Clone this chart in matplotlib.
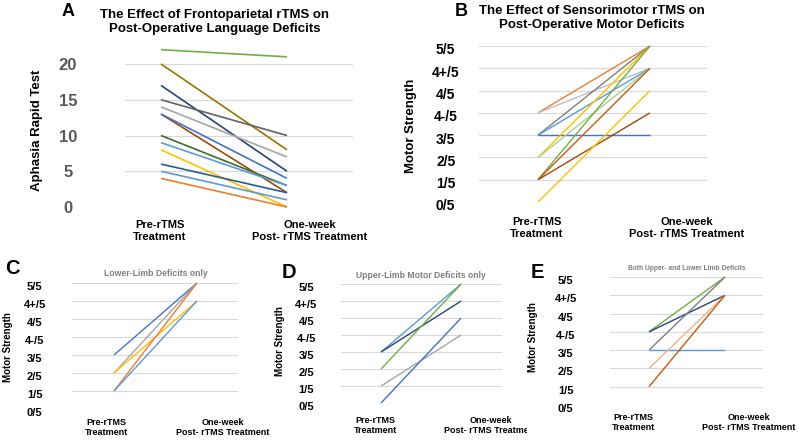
import matplotlib.pyplot as plt
import matplotlib.transforms as mtransforms
from matplotlib.transforms import Bbox, TransformedBbox

plt.rcParams['font.family'] = ['Liberation Sans', 'DejaVu Sans']

# ---- data ----
stages = ["Pre-rTMS\nTreatment", "One-week\nPost- rTMS Treatment"]
motor_ticks = ["0/5", "1/5", "2/5", "3/5", "4-/5", "4/5", "4+/5", "5/5"]

# A: aphasia rapid test scores
a_pre = [22, 20, 17, 15, 14, 13, 13, 10, 9, 8, 6, 5, 4]
a_post = [21, 8, 5, 10, 7, 2, 4, 3, 3, 0, 2, 1, 0]
a_colors = ["#70AD47", "#997300", "#264478", "#636363", "#A5A5A5", "#9E480E",
            "#4472C4", "#43682B", "#5B9BD5", "#FFC000", "#255E91", "#5B9BD5", "#ED7D31"]

# B-E: motor strength as index into motor_ticks
b_pre = [4, 4, 3, 3, 3, 2, 2, 1, 1, 1, 0]
b_post = [7, 6, 7, 6, 3, 7, 6, 7, 6, 4, 5]
b_colors = ["#ED7D31", "#BFBFBF", "#7F7F7F", "#5B9BD5", "#4472C4", "#FFC000",
            "#A9D18E", "#70AD47", "#C55A11", "#9E480E", "#FFC000"]

c_pre = [3, 2, 2, 1, 1]
c_post = [7, 7, 6, 7, 6]
c_colors = ["#4472C4", "#A5A5A5", "#FFC000", "#ED7D31", "#5B9BD5"]

d_pre = [3, 3, 2, 1, 0]
d_post = [7, 6, 7, 4, 5]
d_colors = ["#5B9BD5", "#264478", "#70AD47", "#A5A5A5", "#4472C4"]

e_pre = [4, 4, 3, 3, 2, 1]
e_post = [7, 6, 7, 3, 6, 6]
e_colors = ["#70AD47", "#264478", "#7F7F7F", "#5B9BD5", "#F4B183", "#C55A11"]

W, H = 799, 442
fig = plt.figure(figsize=(W / 100, H / 100), dpi=100)


def px(x, y):
    return x / W, 1 - y / H


def panel(x0, x1, ytop, ybot, xlim, ylim):
    ax = fig.add_axes([x0 / W, 1 - ybot / H, (x1 - x0) / W, (ybot - ytop) / H])
    ax.set_xlim(*xlim)
    ax.set_ylim(*ylim)
    for s in ax.spines.values():
        s.set_visible(False)
    ax.set_xticks([])
    ax.yaxis.grid(True, color="#D9D9D9", lw=0.8)
    ax.set_axisbelow(True)
    ax.tick_params(axis="y", length=0)
    return ax


def draw_lines(ax, pre, post, colors, lw=1.0):
    for p, q, c in zip(pre, post, colors):
        ax.plot([0, 1], [p, q], color=c, lw=lw, clip_on=False, solid_capstyle="butt")


def ticklabels(ax, ticks, labels, size, pad, color="black", drop=0):
    ax.set_yticks(ticks)
    ax.set_yticklabels(labels, fontsize=size, fontweight="bold", color=color)
    ax.tick_params(axis="y", pad=pad)
    shift = mtransforms.ScaledTranslation(0, -drop / 100, fig.dpi_scale_trans)
    for t in ax.get_yticklabels():
        t.set_ha("center")
        t.set_transform(t.get_transform() + shift)


def stage_labels(xpre, xpost, y, size, clip=None):
    t1 = fig.text(*px(xpre, y), stages[0], ha="center", va="top", fontsize=size,
                  fontweight="bold", linespacing=1.2)
    t2 = fig.text(*px(xpost, y), stages[1], ha="center", va="top", fontsize=size,
                  fontweight="bold", linespacing=1.2)
    if clip is not None:
        t2.set_clip_box(TransformedBbox(Bbox.from_extents(0, 0, clip / W, 1), fig.transFigure))
        t2.set_clip_on(True)


# ---- A ----
axA = panel(125, 353, 49.7, 207, (-0.286, 1.524), (0, 22))
draw_lines(axA, a_pre, a_post, a_colors, lw=1.2)
ticklabels(axA, [0, 5, 10, 15, 20], ["0", "5", "10", "15", "20"], 12, 41, "#595959")
fig.text(*px(37, 130), "Aphasia Rapid Test", rotation=90, ha="center", va="center",
         fontsize=9.5, fontweight="bold")
fig.text(*px(68, 12), "A", ha="center", va="center", fontsize=13, fontweight="bold")
fig.text(*px(215, 22), "The Effect of Frontoparietal rTMS on\nPost-Operative Language Deficits",
         ha="center", va="center", fontsize=9.5, fontweight="bold", linespacing=1.2)
stage_labels(160, 310, 220, 8)

# ---- B ----
axB = panel(479, 707, 46, 202, (-0.527, 1.509), (0, 7))
draw_lines(axB, b_pre, b_post, b_colors)
ticklabels(axB, range(8), motor_ticks, 10, 24, drop=3)
fig.text(*px(411, 126), "Motor Strength", rotation=90, ha="center", va="center",
         fontsize=9.5, fontweight="bold")
fig.text(*px(461, 12), "B", ha="center", va="center", fontsize=13, fontweight="bold")
fig.text(*px(592, 18), "The Effect of Sensorimotor rTMS on\nPost-Operative Motor Deficits",
         ha="center", va="center", fontsize=9.5, fontweight="bold", linespacing=1.2)
stage_labels(537, 687, 217, 8)

# ---- C ----
axC = panel(72, 238, 283, 409, (-0.506, 1.494), (0, 7))
draw_lines(axC, c_pre, c_post, c_colors)
ticklabels(axC, range(8), motor_ticks, 8, 27, drop=3)
fig.text(*px(8, 347), "Motor Strength", rotation=90, ha="center", va="center",
         fontsize=7, fontweight="bold")
fig.text(*px(12, 269), "C", ha="center", va="center", fontsize=14.5, fontweight="bold")
fig.text(*px(156, 274), "Lower-Limb Deficits only", ha="center", va="center",
         fontsize=6.2, fontweight="bold", color="#7F7F7F")
stage_labels(106, 223, 418, 6.5)

# ---- D ----
axD = panel(341, 502, 284, 403, (-0.5, 1.51), (0, 7))
draw_lines(axD, d_pre, d_post, d_colors)
ticklabels(axD, range(8), motor_ticks, 8, 25, drop=3)
fig.text(*px(280, 341), "Motor Strength", rotation=90, ha="center", va="center",
         fontsize=7, fontweight="bold")
fig.text(*px(289, 272), "D", ha="center", va="center", fontsize=14.5, fontweight="bold")
fig.text(*px(421, 275), "Upper-Limb Motor Deficits only", ha="center", va="center",
         fontsize=6.2, fontweight="bold", color="#7F7F7F")
stage_labels(375, 491, 416, 6.5, clip=527)

# ---- E ----
axE = panel(610, 763, 277, 405, (-0.513, 1.5), (0, 7))
draw_lines(axE, e_pre, e_post, e_colors)
ticklabels(axE, range(8), motor_ticks, 8, 32, drop=3)
fig.text(*px(533, 337), "Motor Strength", rotation=90, ha="center", va="center",
         fontsize=7, fontweight="bold")
fig.text(*px(537, 272), "E", ha="center", va="center", fontsize=14.5, fontweight="bold")
fig.text(*px(687, 269), "Both Upper- and Lower Limb Deficits", ha="center", va="center",
         fontsize=4.8, fontweight="bold", color="#7F7F7F")
stage_labels(633, 749, 413, 6.5)

fig.savefig("out.png", dpi=100)
